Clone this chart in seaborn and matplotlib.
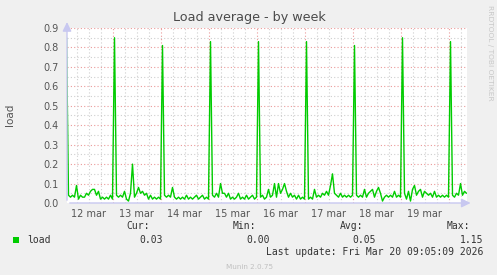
import numpy as np
import pandas as pd
import matplotlib
matplotlib.use("Agg")
import matplotlib.pyplot as plt
from matplotlib.patches import Rectangle
import seaborn as sns

# ---- data (hourly samples) ----
start_time = "2026-03-12 00:50"
load_values = [
    0.85, 0.04, 0.03, 0.04, 0.03, 0.09, 0.02, 0.04, 0.03, 0.03,
    0.05, 0.04, 0.06, 0.07, 0.07, 0.04, 0.06, 0.02, 0.03, 0.02,
    0.03, 0.02, 0.04, 0.02, 0.85, 0.04, 0.03, 0.04, 0.03, 0.06,
    0.02, 0.01, 0.05, 0.20, 0.03, 0.05, 0.08, 0.05, 0.06, 0.04,
    0.05, 0.02, 0.04, 0.02, 0.03, 0.02, 0.03, 0.02, 0.81, 0.04,
    0.03, 0.04, 0.03, 0.08, 0.03, 0.02, 0.03, 0.02, 0.03, 0.02,
    0.04, 0.02, 0.03, 0.02, 0.03, 0.04, 0.02, 0.03, 0.04, 0.02,
    0.03, 0.02, 0.83, 0.04, 0.03, 0.05, 0.03, 0.10, 0.05, 0.05,
    0.03, 0.05, 0.02, 0.03, 0.02, 0.03, 0.05, 0.02, 0.03, 0.02,
    0.04, 0.02, 0.03, 0.04, 0.02, 0.03, 0.83, 0.03, 0.04, 0.02,
    0.03, 0.07, 0.03, 0.04, 0.10, 0.03, 0.10, 0.05, 0.07, 0.10,
    0.06, 0.03, 0.05, 0.03, 0.04, 0.02, 0.04, 0.02, 0.03, 0.02,
    0.83, 0.02, 0.03, 0.02, 0.07, 0.03, 0.04, 0.03, 0.05, 0.04,
    0.06, 0.04, 0.09, 0.15, 0.05, 0.04, 0.03, 0.05, 0.03, 0.04,
    0.03, 0.04, 0.03, 0.04, 0.81, 0.04, 0.03, 0.04, 0.03, 0.07,
    0.03, 0.05, 0.06, 0.07, 0.03, 0.06, 0.08, 0.05, 0.01, 0.03,
    0.04, 0.03, 0.04, 0.03, 0.06, 0.03, 0.04, 0.03, 0.85, 0.05,
    0.02, 0.06, 0.01, 0.07, 0.09, 0.04, 0.06, 0.07, 0.03, 0.06,
    0.05, 0.04, 0.05, 0.03, 0.06, 0.03, 0.04, 0.03, 0.04, 0.03,
    0.04, 0.03, 0.83, 0.04, 0.03, 0.05, 0.04, 0.10, 0.04, 0.06,
    0.05,
]
day_labels = ["12 mar", "13 mar", "14 mar", "15 mar", "16 mar", "17 mar", "18 mar", "19 mar"]
y_ticks = [0.0, 0.1, 0.2, 0.3, 0.4, 0.5, 0.6, 0.7, 0.8, 0.9]
view_start = "2026-03-12 01:05"
view_end = "2026-03-20 09:05"
legend_name = "load"
stat_names = ["Cur:", "Min:", "Avg:", "Max:"]
stat_values = ["0.03", "0.00", "0.05", "1.15"]
title = "Load average - by week"
last_update = "Last update: Fri Mar 20 09:05:09 2026"
footer = "Munin 2.0.75"
watermark = "RRDTOOL / TOBI OETIKER"

times = pd.date_range(start_time, periods=len(load_values), freq="h")
df = pd.DataFrame({"time": times, "load": load_values})

sns.set_theme(style="white")
plt.rcParams["font.family"] = ["DejaVu Sans"]

W, H = 497, 275
fig = plt.figure(figsize=(W / 100, H / 100), dpi=100, facecolor="#f0f0f0")
L, R, T, B = 67, 467, 28, 203
ax = fig.add_axes([L / W, 1 - B / H, (R - L) / W, (B - T) / H])
ax.set_facecolor("white")

x0 = pd.Timestamp(view_start)
x1 = pd.Timestamp(view_end)

# grid lines
minor_grid = "#cfcfcf"
major_grid = "#eb9a9a"
for yv in np.arange(0.05, 0.9, 0.1):
    ax.axhline(yv, color=minor_grid, lw=0.8, ls=(0, (1, 2)), zorder=0)
for yv in y_ticks[1:]:
    ax.axhline(yv, color=major_grid, lw=0.8, ls=(0, (1, 2)), zorder=0)
for t in pd.date_range("2026-03-12 06:00", view_end, freq="6h"):
    if t.hour == 0:
        ax.axvline(t, color=major_grid, lw=0.8, ls=(0, (1, 2)), zorder=0)
    else:
        ax.axvline(t, color=minor_grid, lw=0.8, ls=(0, (1, 2)), zorder=0)

sns.lineplot(data=df, x="time", y="load", ax=ax, color="#00cc00", lw=1.0, zorder=3)

ax.set_xlim(x0, x1)
ax.set_ylim(0, 0.9)

label_pos = [pd.Timestamp(f"2026-03-{12 + i} 12:00") for i in range(len(day_labels))]
ax.set_xticks(label_pos)
ax.set_xticklabels(day_labels)
ax.set_yticks(y_ticks)
ax.set_yticklabels([f"{v:.1f}" for v in y_ticks])
ax.tick_params(axis="both", length=0, labelsize=7, labelcolor="#555555", pad=4)
ax.tick_params(axis="y", pad=6)
ax.set_xlabel("")
ax.set_ylabel("")
for s in ax.spines.values():
    s.set_visible(False)

# axes with arrows
axis_col = "#c8c8f0"
ax.annotate("", xy=(1.016, 0), xytext=(0, 0), xycoords="axes fraction",
            arrowprops=dict(arrowstyle="-|>,head_length=0.45,head_width=0.22", color=axis_col, lw=1))
ax.annotate("", xy=(0, 1.05), xytext=(0, 0), xycoords="axes fraction",
            arrowprops=dict(arrowstyle="-|>,head_length=0.45,head_width=0.22", color=axis_col, lw=1))

def fx(x):
    return x / W

def fy(y):
    return 1 - y / H

fig.text(fx(249), fy(18), title, ha="center", va="center", fontsize=9.2, color="#4a4a4a")
fig.text(fx(10), fy(115), "load", ha="center", va="center", rotation=90, fontsize=7.5, color="#555555")
fig.text(fx(490), fy(53), watermark, ha="center", va="center", rotation=270, fontsize=5.4, color="#c8c8c8")

mono = "DejaVu Sans Mono"
fig.patches.append(Rectangle((fx(13), fy(243)), 6 / W, 6 / H, transform=fig.transFigure,
                             facecolor="#00cc00", edgecolor="none"))
fig.text(fx(27), fy(240), legend_name, ha="left", va="center", fontsize=7, color="#333333", family=mono)
stat_label_x = [150, 256, 363, 470]
stat_value_x = [163, 270, 376, 483]
for name, val, lx, vx in zip(stat_names, stat_values, stat_label_x, stat_value_x):
    fig.text(fx(lx), fy(226), name, ha="right", va="center", fontsize=7, color="#333333", family=mono)
    fig.text(fx(vx), fy(240), val, ha="right", va="center", fontsize=7, color="#333333", family=mono)
fig.text(fx(483), fy(252), last_update, ha="right", va="center", fontsize=7, color="#333333", family=mono)
fig.text(fx(250), fy(267), footer, ha="center", va="center", fontsize=5.2, color="#c0c0c0")

fig.savefig("out.png", dpi=100, facecolor=fig.get_facecolor())
